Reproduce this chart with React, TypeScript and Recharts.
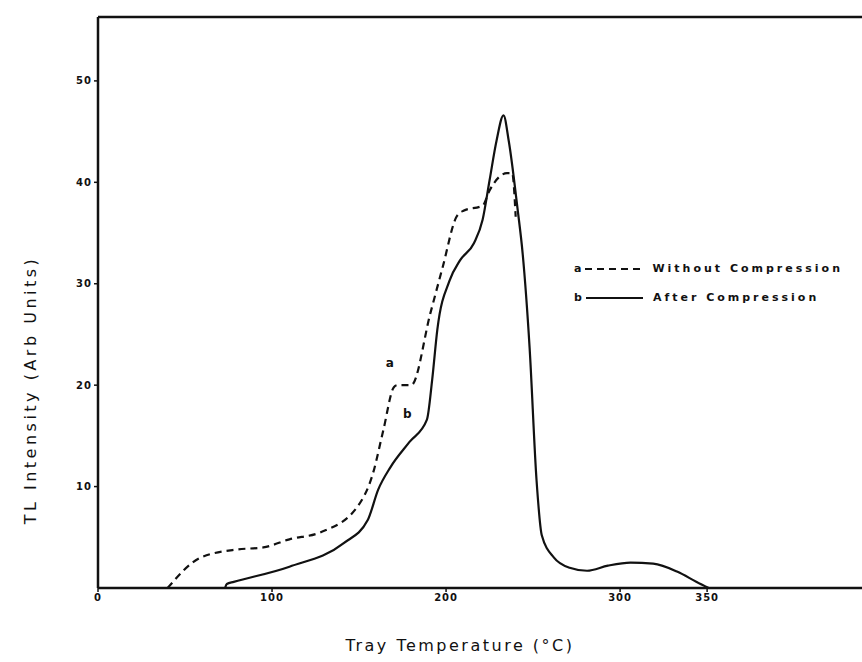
import {
  LineChart,
  Line,
  XAxis,
  YAxis,
  ReferenceLine,
  ReferenceDot,
  Legend
} from 'recharts';

// temperature (°C) / TL intensity
const withoutTemp = [40, 59, 80, 95, 110, 128, 149, 158, 164, 170, 172, 180, 191, 198, 206, 210, 221, 225, 235, 238, 240];
const withoutTL = [0, 3.0, 3.8, 4.0, 4.8, 5.5, 8.0, 11.3, 15.6, 19.8, 20.0, 20.0, 27.1, 31.6, 36.6, 37.2, 37.7, 39.2, 40.9, 40.9, 36.6];

const afterTemp = [73, 74, 78, 110, 141, 155, 161, 168, 179, 189, 192, 195, 202, 208, 216, 221, 225, 229, 233, 236, 241, 244, 248, 252, 255, 262, 271, 281, 293, 306, 319, 333, 344, 351];
const afterTL = [0, 0.4, 0.6, 2.1, 4.4, 6.7, 9.7, 11.9, 14.4, 16.6, 20.5, 25.5, 30.3, 32.3, 34.0, 36.3, 40.2, 44.1, 46.6, 44.1, 37.5, 33.0, 23.7, 10.6, 5.2, 3.0, 2.0, 1.7, 2.2, 2.5, 2.4, 1.6, 0.6, 0];

const xTicks = [0, 100, 200, 300, 350];
const yTicks = [10, 20, 30, 40, 50];

const withoutData = withoutTemp.map((t, i) => ({ t, v: withoutTL[i] }));
const afterData = afterTemp.map((t, i) => ({ t, v: afterTL[i] }));

const tickStyle = { fontSize: 10, fontWeight: 700, fill: '#111', fontFamily: 'DejaVu Sans', letterSpacing: 1 };
const Y_MAX = 56.3;

function LegendBox() {
  const row = { display: 'flex', alignItems: 'center', height: 29 } as const;
  const txt = { fontSize: 11, fontWeight: 700, letterSpacing: 3, fontFamily: 'DejaVu Sans', color: '#111' };
  return (
    <div style={{ paddingLeft: 14 }}>
      <div style={row}>
        <span style={txt}>a</span>
        <svg width={68} height={10}>
          <line x1={1} y1={5} x2={58} y2={5} stroke="#111" strokeWidth={2.2} strokeDasharray="7 5" />
        </svg>
        <span style={txt}>Without Compression</span>
      </div>
      <div style={row}>
        <span style={txt}>b</span>
        <svg width={68} height={10}>
          <line x1={1} y1={5} x2={58} y2={5} stroke="#111" strokeWidth={2.2} />
        </svg>
        <span style={txt}>After Compression</span>
      </div>
    </div>
  );
}

export default function App() {
  return (
    <div style={{ position: 'absolute', left: 0, top: 0, width: 862, height: 662, background: '#fff' }}>
      <LineChart width={862} height={662} margin={{ top: 17, right: 0, left: 38, bottom: 44 }}>
        <XAxis
          type="number"
          dataKey="t"
          domain={[0, 439]}
          ticks={xTicks}
          allowDataOverflow
          height={30}
          tick={tickStyle}
          tickSize={4}
          axisLine={{ stroke: '#111', strokeWidth: 2.5 }}
          tickLine={{ stroke: '#111', strokeWidth: 1.5 }}
        />
        <YAxis
          type="number"
          dataKey="v"
          domain={[0, Y_MAX]}
          ticks={yTicks}
          allowDataOverflow
          width={60}
          tick={tickStyle}
          tickSize={4}
          axisLine={{ stroke: '#111', strokeWidth: 2.5 }}
          tickLine={{ stroke: '#111', strokeWidth: 1.5 }}
        />
        <ReferenceLine y={Y_MAX} stroke="#111" strokeWidth={2.5} />
        <Line
          data={withoutData}
          dataKey="v"
          type="monotone"
          stroke="#111"
          strokeWidth={2.2}
          strokeDasharray="7 5"
          dot={false}
          isAnimationActive={false}
        />
        <Line
          data={afterData}
          dataKey="v"
          type="monotone"
          stroke="#111"
          strokeWidth={2.2}
          dot={false}
          isAnimationActive={false}
        />
        <ReferenceDot x={168} y={22.2} r={0} label={{ value: 'a', ...tickStyle, fontSize: 12 }} />
        <ReferenceDot x={178} y={17.2} r={0} label={{ value: 'b', ...tickStyle, fontSize: 12 }} />
        <Legend
          layout="vertical"
          align="center"
          verticalAlign="middle"
          content={() => <LegendBox />}
          wrapperStyle={{ left: 560, top: 254, width: 302 }}
        />
      </LineChart>
      <div
        style={{
          position: 'absolute',
          left: 0,
          top: 636,
          width: 920,
          textAlign: 'center',
          fontFamily: 'DejaVu Sans',
          fontSize: 16,
          letterSpacing: 2.5,
          color: '#111'
        }}
      >
        Tray Temperature (°C)
      </div>
      <div
        style={{
          position: 'absolute',
          left: 30,
          top: 390,
          transform: 'translate(-50%, -50%) rotate(-90deg)',
          whiteSpace: 'nowrap',
          fontFamily: 'DejaVu Sans',
          fontSize: 16,
          letterSpacing: 3.5,
          color: '#111'
        }}
      >
        TL Intensity (Arb Units)
      </div>
    </div>
  );
}
